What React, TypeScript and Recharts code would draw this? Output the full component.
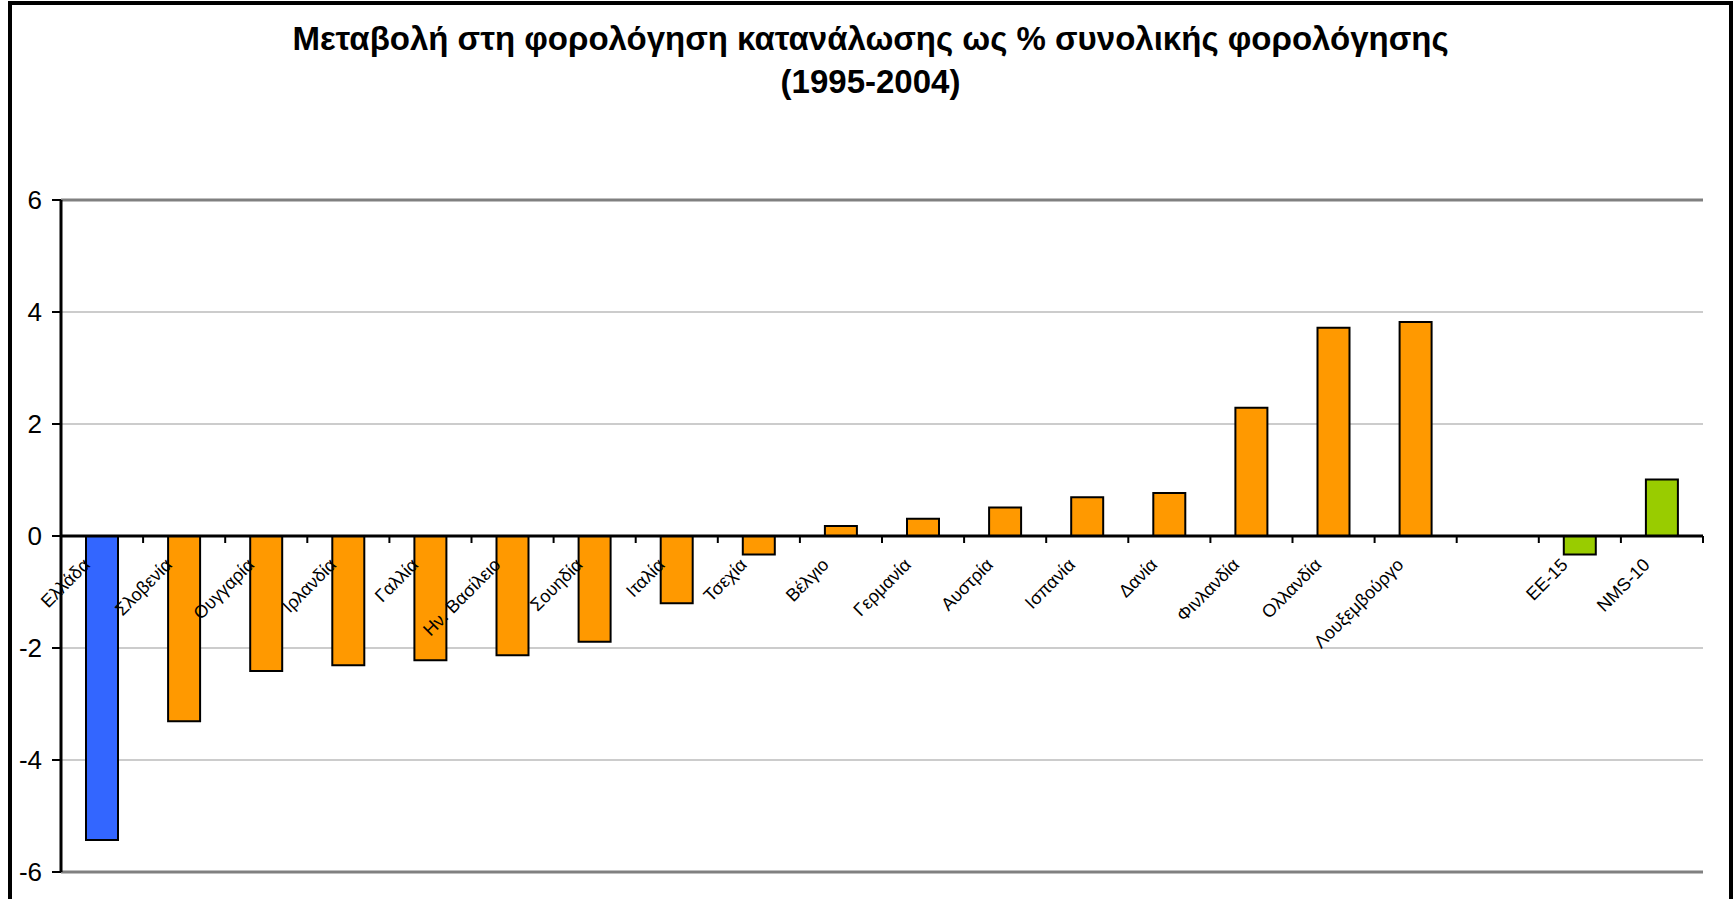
import { BarChart, Bar, XAxis, YAxis, CartesianGrid, ReferenceLine, Cell } from "recharts"

const countries = [
  "Ελλάδα",
  "Σλοβενία",
  "Ουγγαρία",
  "Ιρλανδία",
  "Γαλλία",
  "Ην. Βασίλειο",
  "Σουηδία",
  "Ιταλία",
  "Τσεχία",
  "Βέλγιο",
  "Γερμανία",
  "Αυστρία",
  "Ισπανία",
  "Δανία",
  "Φινλανδία",
  "Ολλανδία",
  "Λουξεμβούργο",
  "",
  "ΕΕ-15",
  "NMS-10",
]

// μεταβολή 1995-2004, ποσοστιαίες μονάδες
const change = [
  -5.43, -3.31, -2.41, -2.31, -2.22, -2.13, -1.89, -1.2, -0.33, 0.18, 0.31, 0.51, 0.69, 0.77, 2.29, 3.72, 3.82,
  null, -0.33, 1.01,
]

const yTicks = [-6, -4, -2, 0, 2, 4, 6]
const highlighted = ["Ελλάδα"]
const aggregates = ["ΕΕ-15", "NMS-10"]

const data = countries.map((name, i) => ({ name, value: change[i] }))

const FONT = "Arial, 'Liberation Sans', sans-serif"
const W = 1733
const H = 899
const MARGIN = { top: 200, right: 30, bottom: 0, left: 0 }
const Y_AXIS_W = 61
const X_AXIS_H = 27
const PLOT_TOP = MARGIN.top
const PLOT_BOTTOM = H - MARGIN.bottom - X_AXIS_H
const PLOT_W = W - MARGIN.left - MARGIN.right - Y_AXIS_W
const Y_MIN = yTicks[0]
const Y_MAX = yTicks[yTicks.length - 1]
const ZERO_Y = PLOT_TOP + ((PLOT_BOTTOM - PLOT_TOP) * Y_MAX) / (Y_MAX - Y_MIN)

function barColor(name: string) {
  if (highlighted.includes(name)) return "#3366FF"
  if (aggregates.includes(name)) return "#99CC00"
  return "#FF9900"
}

function CategoryTick(props: any) {
  const { x, index, payload } = props
  const band = PLOT_W / countries.length
  const lx = x - 11
  const ly = ZERO_Y + 30
  return (
    <g>
      <line x1={x - band / 2} x2={x - band / 2} y1={ZERO_Y} y2={ZERO_Y + 7} stroke="#000" strokeWidth={2} />
      {index === countries.length - 1 && (
        <line x1={x + band / 2} x2={x + band / 2} y1={ZERO_Y} y2={ZERO_Y + 7} stroke="#000" strokeWidth={2} />
      )}
      <text
        x={lx}
        y={ly}
        transform={`rotate(-45 ${lx} ${ly})`}
        textAnchor="end"
        fontSize={18}
        fontFamily={FONT}
        fill="#000"
      >
        {payload.value}
      </text>
    </g>
  )
}

export default function App() {
  return (
    <div style={{ position: "absolute", left: 0, top: 0, width: W, height: H, background: "#fff", overflow: "hidden" }}>
      <div
        style={{
          position: "absolute",
          left: 8,
          top: 1,
          width: 1725,
          height: 960,
          border: "4px solid #000",
          boxSizing: "border-box",
        }}
      />
      <div
        style={{
          position: "absolute",
          left: 8,
          top: 17,
          width: 1725,
          textAlign: "center",
          fontFamily: FONT,
          fontWeight: "bold",
          fontSize: 33,
          lineHeight: "43px",
          color: "#000",
        }}
      >
        Μεταβολή στη φορολόγηση κατανάλωσης ως % συνολικής φορολόγησης
        <br />
        (1995-2004)
      </div>
      <div style={{ position: "absolute", left: 0, top: 0 }}>
        <BarChart width={W} height={H} data={data} margin={MARGIN}>
          <CartesianGrid vertical={false} stroke="#999" strokeWidth={1} />
          <XAxis
            dataKey="name"
            interval={0}
            height={X_AXIS_H}
            axisLine={false}
            tickLine={false}
            tick={<CategoryTick />}
          />
          <YAxis
            domain={[Y_MIN, Y_MAX]}
            ticks={yTicks}
            width={Y_AXIS_W}
            tickSize={9}
            tickMargin={10}
            axisLine={{ stroke: "#000", strokeWidth: 3 }}
            tickLine={{ stroke: "#000", strokeWidth: 2 }}
            tick={{ fill: "#000", fontSize: 26, fontFamily: FONT }}
            allowDataOverflow
          />
          <YAxis
            yAxisId="right"
            orientation="right"
            width={0}
            tick={false}
            tickLine={false}
            axisLine={{ stroke: "#808080", strokeWidth: 3 }}
          />
          <ReferenceLine y={Y_MAX} stroke="#808080" strokeWidth={3} />
          <ReferenceLine y={Y_MIN} stroke="#808080" strokeWidth={3} />
          <Bar dataKey="value" barSize={32} stroke="#000" strokeWidth={2} isAnimationActive={false}>
            {data.map((d, i) => (
              <Cell key={i} fill={barColor(d.name)} />
            ))}
          </Bar>
          <ReferenceLine y={0} stroke="#000" strokeWidth={3} />
        </BarChart>
      </div>
    </div>
  )
}
